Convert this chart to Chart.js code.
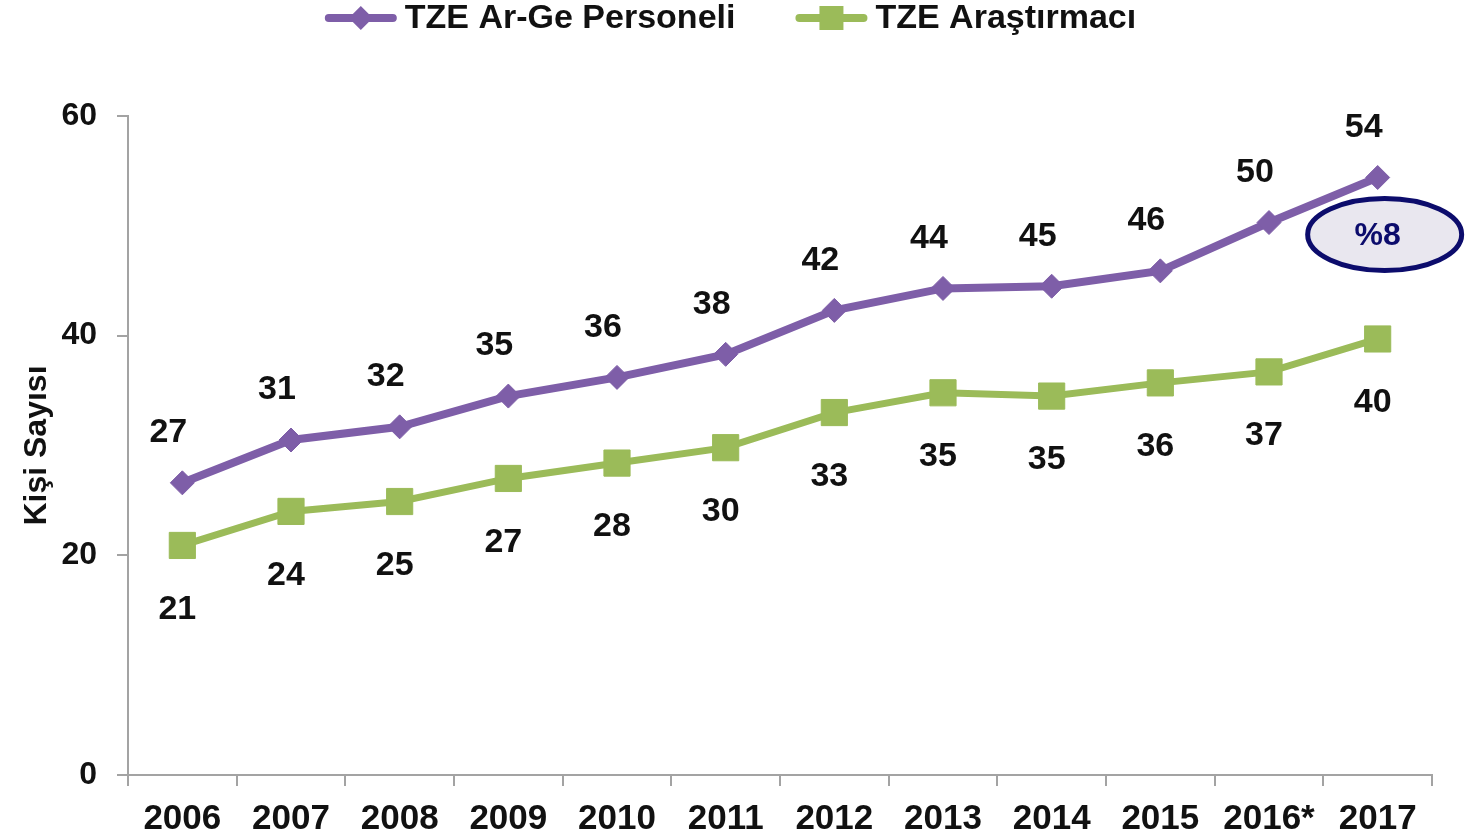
<!DOCTYPE html>
<html lang="tr">
<head>
<meta charset="utf-8">
<title>TZE Ar-Ge Personeli</title>
<script src="https://cdn.jsdelivr.net/npm/chart.js@4.4.1/dist/chart.umd.min.js"></script>
<style>
  html,body{margin:0;padding:0;background:#fff;}
  .wrap{width:1465px;height:838px;position:relative;}
</style>
</head>
<body>
<div class="wrap"><canvas id="rdChart"></canvas></div>
<script>
// values (bin kişi)
const years = ['2006','2007','2008','2009','2010','2011','2012','2013','2014','2015','2016*','2017'];
const argePersoneli = [26.6, 30.5, 31.7, 34.5, 36.2, 38.3, 42.3, 44.3, 44.5, 45.9, 50.3, 54.4];
const arastirmaci   = [20.9, 24.0, 24.9, 27.0, 28.4, 29.8, 33.0, 34.8, 34.5, 35.7, 36.7, 39.7];
const seriesNames = ['TZE Ar-Ge Personeli', 'TZE Araştırmacı'];
const yMin = 0, yMax = 60, yStep = 20;
const growthNote = '%8';

const PURPLE = '#7e5ea8';
const GREEN = '#9bbb59';
const NAVY = '#0c0c6c';
const INK = '#111';
const AXIS = '#a3a3a3';
const FONT = "'Liberation Sans', Arial, sans-serif";

// value labels above / below each point
const valueLabels = {
  id:'valueLabels',
  afterDatasetsDraw(chart){
    const ctx = chart.ctx;
    const shift = [{dx:-14, dy:-50}, {dx:-5, dy:64}];
    ctx.save();
    ctx.font = `bold 34px ${FONT}`;
    ctx.fillStyle = INK;
    ctx.textAlign = 'center';
    ctx.textBaseline = 'middle';
    chart.data.datasets.forEach((ds, i)=>{
      const meta = chart.getDatasetMeta(i);
      meta.data.forEach((pt, j)=>{
        ctx.fillText(Math.round(ds.data[j]).toString(), pt.x + shift[i].dx, pt.y + shift[i].dy);
      });
    });
    ctx.restore();
  }
};

// legend at the top: line + marker + text
const topLegend = {
  id:'topLegend',
  afterDraw(chart){
    const ctx = chart.ctx;
    const lineW = 72, gap = 8, itemGap = 60, cy = 18;
    ctx.save();
    ctx.font = `bold 34px ${FONT}`;
    const items = chart.data.datasets.map(ds=>({ds, w:ctx.measureText(ds.label).width}));
    const total = items.reduce((s,it)=>s + lineW + gap + it.w, 0) + itemGap*(items.length-1);
    let x = chart.width/2 - total/2 - 2;
    items.forEach(it=>{
      const ds = it.ds;
      ctx.strokeStyle = ds.borderColor;
      ctx.lineWidth = 8;
      ctx.lineCap = 'round';
      ctx.beginPath();
      ctx.moveTo(x + 4, cy);
      ctx.lineTo(x + lineW - 4, cy);
      ctx.stroke();
      ctx.fillStyle = ds.borderColor;
      const mx = x + lineW/2;
      if(ds.pointStyle === 'rectRot'){
        ctx.beginPath();
        ctx.moveTo(mx - 12, cy); ctx.lineTo(mx, cy - 12);
        ctx.lineTo(mx + 12, cy); ctx.lineTo(mx, cy + 12);
        ctx.closePath(); ctx.fill();
      }else{
        ctx.fillRect(mx - 12, cy - 12, 24, 24);
      }
      ctx.fillStyle = INK;
      ctx.textAlign = 'left';
      ctx.textBaseline = 'middle';
      ctx.fillText(ds.label, x + lineW + gap, cy + 1);
      x += lineW + gap + it.w + itemGap;
    });
    ctx.restore();
  }
};

// growth bubble next to the last point
const growthBubble = {
  id:'growthBubble',
  afterDraw(chart){
    const meta = chart.getDatasetMeta(0);
    const last = meta.data[meta.data.length-1];
    const cx = last.x + 7, cy = last.y + 57;
    const ctx = chart.ctx;
    ctx.save();
    ctx.beginPath();
    ctx.ellipse(cx, cy, 77, 36, 0, 0, Math.PI*2);
    ctx.fillStyle = '#e9e7ef';
    ctx.fill();
    ctx.lineWidth = 5;
    ctx.strokeStyle = NAVY;
    ctx.stroke();
    ctx.fillStyle = NAVY;
    ctx.font = `bold 32px ${FONT}`;
    ctx.textAlign = 'center';
    ctx.textBaseline = 'middle';
    ctx.fillText(growthNote, cx - 7, cy + 2);
    ctx.restore();
  }
};

const ctx = document.getElementById('rdChart').getContext('2d');
new Chart(ctx, {
  type:'line',
  data:{
    labels:years,
    datasets:[
      {
        label:seriesNames[0],
        data:argePersoneli,
        borderColor:PURPLE,
        backgroundColor:PURPLE,
        borderWidth:8,
        tension:0,
        pointStyle:'rectRot',
        pointRadius:12,
        pointHoverRadius:12,
        pointBackgroundColor:PURPLE,
        pointBorderColor:PURPLE,
        pointBorderWidth:1
      },
      {
        label:seriesNames[1],
        data:arastirmaci,
        borderColor:GREEN,
        backgroundColor:GREEN,
        borderWidth:7,
        tension:0,
        pointStyle:'rect',
        pointRadius:18.5,
        pointHoverRadius:18.5,
        pointBackgroundColor:GREEN,
        pointBorderColor:GREEN,
        pointBorderWidth:1
      }
    ]
  },
  options:{
    responsive:true,
    maintainAspectRatio:false,
    animation:false,
    layout:{padding:{top:116, left:14, right:33, bottom:0}},
    plugins:{
      legend:{display:false},
      tooltip:{enabled:false}
    },
    scales:{
      x:{
        offset:true,
        afterFit:(scale)=>{ scale.height = 63; },
        grid:{display:true, offset:true, drawOnChartArea:false, drawTicks:true, tickLength:11, color:AXIS, lineWidth:2},
        border:{display:true, color:AXIS, width:2},
        ticks:{color:INK, padding:12, maxRotation:0, autoSkip:false, font:{family:FONT, size:35, weight:'bold'}}
      },
      y:{
        min:yMin,
        max:yMax,
        afterFit:(scale)=>{ scale.width = 114; },
        grid:{display:true, drawOnChartArea:false, drawTicks:true, tickLength:11, color:AXIS, lineWidth:2},
        border:{display:true, color:AXIS, width:2},
        ticks:{stepSize:yStep, color:INK, padding:20, font:{family:FONT, size:32, weight:'bold'}},
        title:{display:true, text:'Kişi Sayısı', color:INK, padding:{top:4, bottom:4}, font:{family:FONT, size:32, weight:'bold'}}
      }
    }
  },
  plugins:[valueLabels, topLegend, growthBubble]
});
</script>
</body>
</html>
